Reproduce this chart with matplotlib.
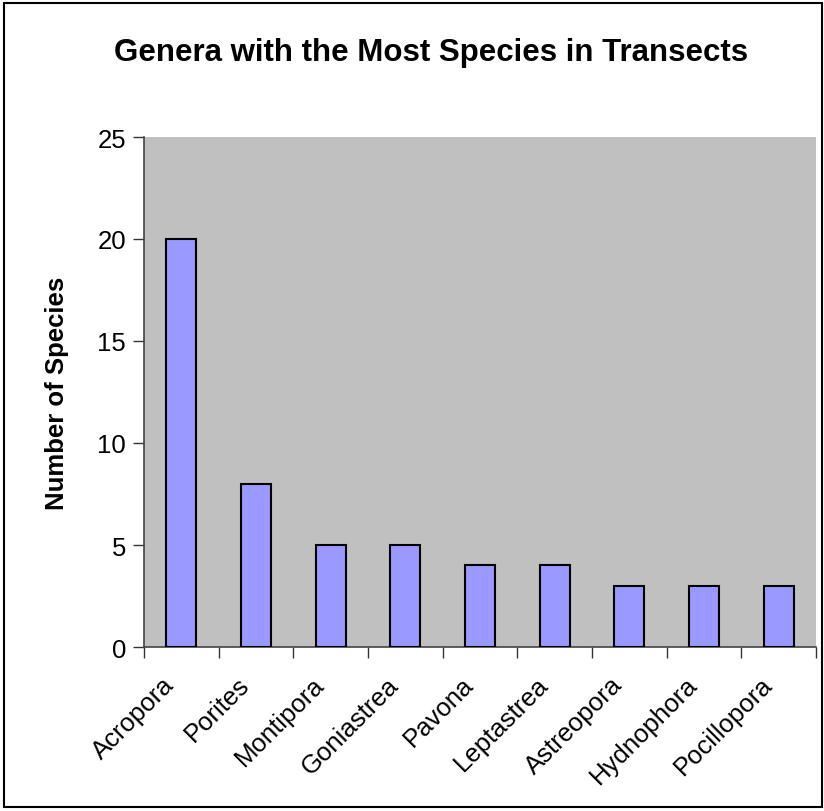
import matplotlib
matplotlib.use("Agg")
import matplotlib.pyplot as plt
import matplotlib.transforms as mtransforms
import numpy as np
from matplotlib.patches import Rectangle

genera = ["Acropora", "Porites", "Montipora", "Goniastrea", "Pavona",
          "Leptastrea", "Astreopora", "Hydnophora", "Pocillopora"]
species = [20, 8, 5, 5, 4, 4, 3, 3, 3]
yticks = [0, 5, 10, 15, 20, 25]

plt.rcParams["font.family"] = ["Liberation Sans", "DejaVu Sans"]

fig = plt.figure(figsize=(8.24, 8.12), dpi=100)
ax = fig.add_axes([144 / 824, 1 - 648 / 812, (816 - 144) / 824, (648 - 138) / 812])
ax.set_facecolor("#C0C0C0")

x = np.arange(len(genera))
ax.bar(x, species, width=0.4, color="#9999FF", edgecolor="black", linewidth=1.5, zorder=3)

ax.set_xlim(-0.5, len(genera) - 0.5)
ax.set_ylim(0, 25)
ax.set_yticks(yticks)
ax.set_yticklabels([str(v) for v in yticks], fontsize=18.5)
ax.tick_params(axis="y", direction="out", length=8, width=1, color="#333333", pad=5)

# category labels centred, tick marks at boundaries
ax.set_xticks(x)
ax.set_xticklabels(genera, rotation=45, ha="right", rotation_mode="anchor", fontsize=18.5)
ax.tick_params(axis="x", length=0, pad=16)
ax.set_xticks(np.arange(len(genera) + 1) - 0.5, minor=True)
ax.tick_params(axis="x", which="minor", direction="out", length=8, width=1, color="#333333")

# nudge labels left so they sit like the original
shift = mtransforms.ScaledTranslation(-19 / 100, -3 / 100, fig.dpi_scale_trans)
for lab in ax.get_xticklabels():
    lab.set_transform(lab.get_transform() + shift)

for side in ["top", "right"]:
    ax.spines[side].set_visible(False)
ax.spines["left"].set_color("#444444")
ax.spines["bottom"].set_color("#444444")
ax.spines["left"].set_linewidth(1.2)
ax.spines["bottom"].set_linewidth(1.2)

ax.set_ylabel("Number of Species", fontsize=18.5, fontweight="bold", labelpad=20)
fig.text(0.523, 1 - 53 / 812, "Genera with the Most Species in Transects",
         ha="center", va="center", fontsize=22.5, fontweight="bold")

fig.patches.append(Rectangle((4 / 824, 4 / 812), 818 / 824, 804 / 812,
                             transform=fig.transFigure, fill=False,
                             edgecolor="black", linewidth=1.5))

fig.savefig("out.png", dpi=100)
